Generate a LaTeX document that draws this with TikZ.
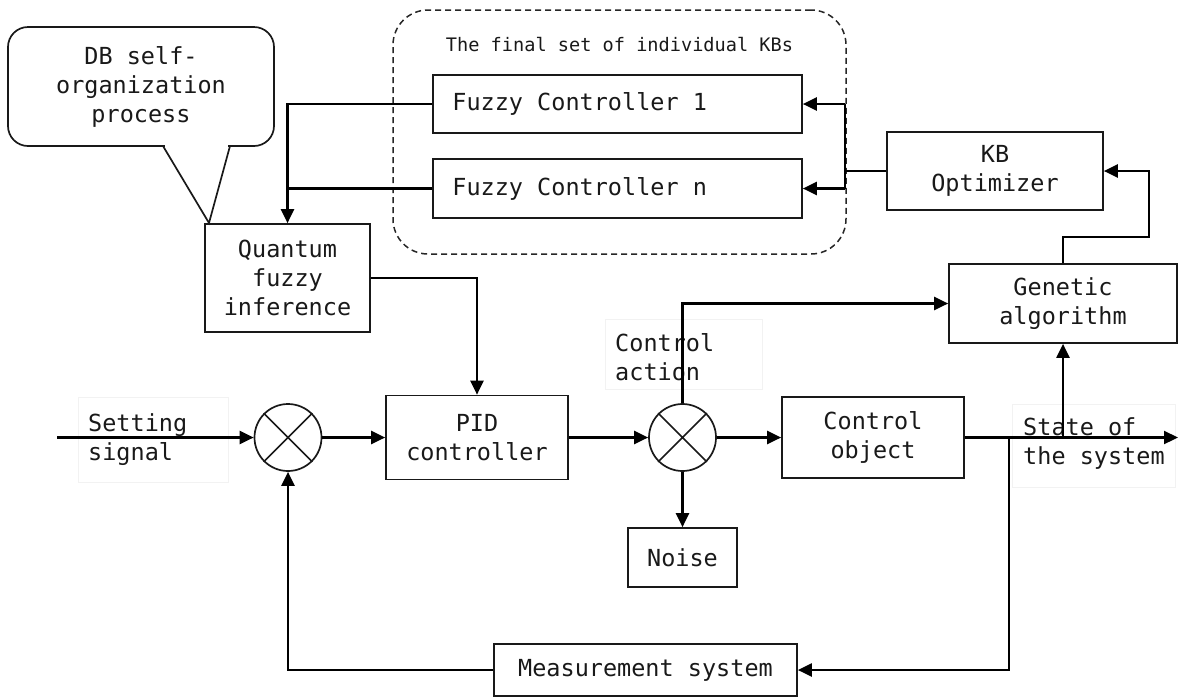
\documentclass[tikz,border=0pt]{standalone}
\usepackage{fontspec}
\newfontfamily\dvmono[WordSpace={1,0,0}]{DejaVu Sans Mono}
\usetikzlibrary{arrows.meta}
\newcommand\fbig{\dvmono\fontsize{23.5}{29}\selectfont}
\newcommand\fsmall{\dvmono\fontsize{18.6}{22}\selectfont}
\begin{document}
\begin{tikzpicture}[x=1pt,y=-1pt,
  box/.style={draw=black!90, line width=1.7pt, inner sep=0pt, font=\fbig, align=center, text=black!90},
  lbl/.style={draw=black!5, line width=0.8pt, inner sep=0pt},
  ltxt/.style={inner sep=0pt, font=\fbig, align=left, text=black!90, anchor=west},
  conn/.style={line width=2.2pt},
  arr/.style={conn, -{Triangle[length=14pt,width=13pt]}},
  sumj/.style={circle, draw=black!90, line width=1.7pt, minimum size=67pt, inner sep=0pt}]
\useasboundingbox (0,0) rectangle (1178,697);

% dashed group
\node[draw=black!85, dash pattern=on 6pt off 4pt, line width=1.5pt, rounded corners=35pt,
      minimum width=453pt, minimum height=244pt, inner sep=0pt] (kbs) at (619.5,132) {};
\node[font=\fsmall, text=black!90, inner sep=0pt] (kbst) at (619.5,45) {The final set of individual KBs};

% faint labels
\node[lbl, minimum width=150pt, minimum height=85pt] (setl) at (153,439.5) {};
\node[ltxt] (setlt) at (88,439.5) {Setting\\signal};
\node[lbl, minimum width=157pt, minimum height=70pt] (cal) at (683.5,354) {};
\node[ltxt] (calt) at (615,357) {Control\\action};
\node[lbl, minimum width=163pt, minimum height=83pt] (stl) at (1093.5,445.5) {};
\node[ltxt] (stlt) at (1023,443.5) {State of\\the system};

% callout
\node[box, rounded corners=20pt, minimum width=266pt, minimum height=119pt] (db) at (141,86.5) {DB self-\\organization\\process};
\fill[white] (165,143) rectangle (228,149);
\draw[line width=1.7pt, draw=black!90, line join=miter] (163,146) -- (209,223) -- (230,146);

% boxes
\node[box, minimum width=369pt, minimum height=58pt] (fc1) at (617.5,104) {};
\node[ltxt] (fc1t) at ([xshift=20pt]fc1.west) {Fuzzy Controller 1};
\node[box, minimum width=369pt, minimum height=59pt] (fcn) at (617.5,188.5) {};
\node[ltxt] (fcnt) at ([xshift=20pt]fcn.west) {Fuzzy Controller n};
\node[box, minimum width=165pt, minimum height=108pt] (qfi) at (287.5,278) {Quantum\\fuzzy\\inference};
\node[box, minimum width=216pt, minimum height=78pt] (kbo) at (995,171) {KB\\Optimizer};
\node[box, minimum width=228pt, minimum height=79pt] (ga) at (1063,303.5) {Genetic\\algorithm};
\node[box, minimum width=182pt, minimum height=84pt] (pid) at (477,437.5) {PID\\controller};
\node[box, minimum width=182pt, minimum height=81pt] (co) at (873,437.5) {Control\\object};
\node[box, minimum width=109pt, minimum height=59pt] (noise) at (682.5,557.5) {Noise};
\node[box, minimum width=303pt, minimum height=52pt] (ms) at (645.5,670) {Measurement system};

% summing junctions
\node[sumj] (s1) at (288,437.5) {};
\node[sumj] (s2) at (682.5,437.5) {};
\draw[line width=1.6pt, draw=black!90] (s1.north west) -- (s1.south east) (s1.north east) -- (s1.south west);
\draw[line width=1.6pt, draw=black!90] (s2.north west) -- (s2.south east) (s2.north east) -- (s2.south west);

% coordinates
\coordinate (in) at (57,437.5);
\coordinate (out) at (1178,437.5);
\coordinate (b1) at (1009,437.5);
\coordinate (b2) at (1063,437.5);
\coordinate (gk) at (1149,237);
\coordinate (jt) at (845,104);
\coordinate (jb) at (845,188.5);

% connectors
\draw[arr] (fc1.west) -| (qfi.north);
\draw[conn] (fcn.west) -- (fcn.west -| qfi.north);
\draw[arr] (qfi.east) -| (pid.north);
\draw[arr] (in) -- (s1.west);
\draw[arr] (s1.east) -- (pid.west);
\draw[arr] (pid.east) -- (s2.west);
\draw[arr] (s2.east) -- (co.west);
\draw[arr] (co.east) -- (out);
\draw[arr] (b1) |- (ms.east);
\draw[arr] (b2) -- (ga.south);
\draw[arr] (s2.north) |- (ga.west);
\draw[arr] (s2.south) -- (noise.north);
\draw[arr] (ms.west) -| (s1.south);
\draw[arr] (ga.north) |- (gk) |- (kbo.east);
\draw[conn] (kbo.west) -- (kbo.west -| jt);
\draw[conn] (jt) -- (jb);
\draw[arr] (jt) -- (fc1.east);
\draw[arr] (jb) -- (fcn.east);
\end{tikzpicture}
\end{document}
